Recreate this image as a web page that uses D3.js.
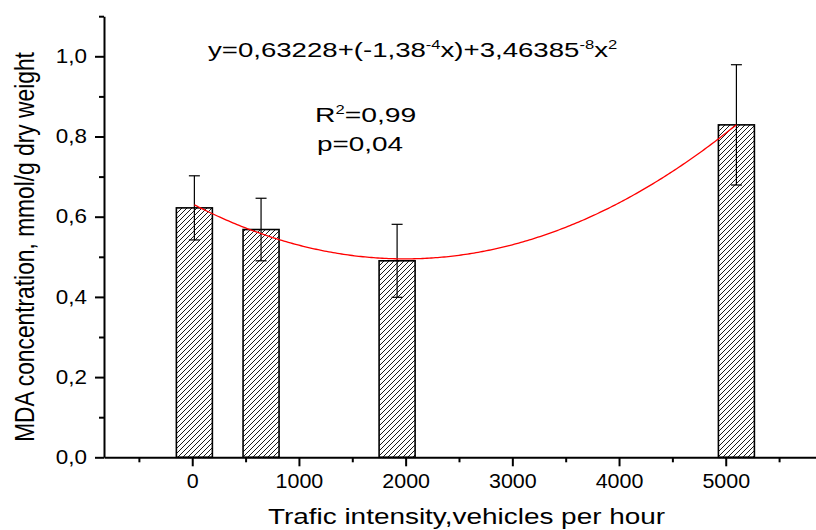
<!DOCTYPE html>
<html>
<head>
<meta charset="utf-8">
<script src="https://cdn.jsdelivr.net/npm/d3@7"></script>
<style>
  body { margin: 0; background: #fff; }
  svg { display: block; font-family: Arial, "Liberation Sans", sans-serif; }
</style>
</head>
<body>
<svg id="chart" width="816" height="530"></svg>
<script>
// values
const intensity = [20, 645, 1920, 5100];      // vehicles per hour (bar positions)
const mda = [0.622, 0.568, 0.49, 0.829];       // mmol/g dry weight
const mdaErr = [0.08, 0.078, 0.091, 0.15];
const xMajor = [0, 1000, 2000, 3000, 4000, 5000];
const xMinor = [-500, 500, 1500, 2500, 3500, 4500, 5500];
const yMajor = [0, 0.2, 0.4, 0.6, 0.8, 1.0];
const yMinor = [0.1, 0.3, 0.5, 0.7, 0.9, 1.1];
const fitCoef = [0.63228, -1.38e-4, 3.46385e-8]; // printed fit equation

const svg = d3.select("#chart");

const x = d3.scaleLinear().domain([-827, 5846]).range([104, 816]);
const y = d3.scaleLinear().domain([0, 1.1]).range([457.3, 16.2]);

// hatch for the bars
const defs = svg.append("defs");
defs.append("pattern")
  .attr("id", "hatch")
  .attr("patternUnits", "userSpaceOnUse")
  .attr("width", 5).attr("height", 5)
  .append("path")
  .attr("d", "M-1,1 l2,-2 M0,5 l5,-5 M4,6 l2,-2")
  .attr("stroke", "#000")
  .attr("stroke-width", 0.9);

// bars
const barW = 36;
svg.selectAll("rect.bar")
  .data(mda)
  .enter()
  .append("rect")
  .attr("class", "bar")
  .attr("x", (d, i) => x(intensity[i]) - barW / 2)
  .attr("y", d => y(d))
  .attr("width", barW)
  .attr("height", d => y(0) - y(d))
  .attr("fill", "url(#hatch)")
  .attr("stroke", "#000")
  .attr("stroke-width", 1.6);

// error bars
const errs = svg.append("g").attr("stroke", "#000").attr("stroke-width", 1.2);
mda.forEach(function (d, i) {
  const cx = x(intensity[i]);
  errs.append("line").attr("x1", cx).attr("x2", cx).attr("y1", y(d + mdaErr[i])).attr("y2", y(d - mdaErr[i]));
  errs.append("line").attr("x1", cx - 5.5).attr("x2", cx + 5.5).attr("y1", y(d + mdaErr[i])).attr("y2", y(d + mdaErr[i]));
  errs.append("line").attr("x1", cx - 5.5).attr("x2", cx + 5.5).attr("y1", y(d - mdaErr[i])).attr("y2", y(d - mdaErr[i]));
});

// fitted curve from the printed coefficients
const fitX = d3.range(intensity[0], intensity[3] + 1, 20);
svg.append("path")
  .datum(fitX)
  .attr("fill", "none")
  .attr("stroke", "#ff0000")
  .attr("stroke-width", 1.3)
  .attr("d", d3.line()
    .x(v => x(v))
    .y(v => y(fitCoef[0] + fitCoef[1] * v + fitCoef[2] * v * v)));

// axes: minor ticks first, then major ones with labels
const tickFont = 19.5;

svg.append("g")
  .attr("transform", "translate(0," + y(0) + ")")
  .call(d3.axisBottom(x).tickValues(xMinor).tickSize(5).tickFormat(""))
  .call(g => g.select(".domain").remove());

const xAxis = svg.append("g")
  .attr("transform", "translate(0," + y(0) + ")")
  .call(d3.axisBottom(x).tickValues(xMajor).tickSize(9).tickSizeOuter(0).tickPadding(8.2).tickFormat(d3.format("d")));

svg.append("g")
  .attr("transform", "translate(" + x.range()[0] + ",0)")
  .call(d3.axisLeft(y).tickValues(yMinor).tickSize(5).tickFormat(""))
  .call(g => g.select(".domain").remove());

const yAxis = svg.append("g")
  .attr("transform", "translate(" + x.range()[0] + ",0)")
  .call(d3.axisLeft(y).tickValues(yMajor).tickSize(9).tickSizeOuter(0).tickPadding(8)
    .tickFormat(d => d3.format(".1f")(d).replace(".", ",")));

svg.selectAll(".tick line").attr("stroke", "#000").attr("stroke-width", 2);
svg.selectAll(".domain").attr("stroke", "#000").attr("stroke-width", 2);

xAxis.selectAll("text")
  .attr("font-size", tickFont)
  .attr("font-family", "Arial, 'Liberation Sans', sans-serif")
  .attr("fill", "#000")
  .attr("transform", "scale(1.1,1)");

yAxis.selectAll("text")
  .attr("font-size", tickFont)
  .attr("font-family", "Arial, 'Liberation Sans', sans-serif")
  .attr("fill", "#000")
  .attr("x", -17 / 1.15)
  .attr("transform", "scale(1.15,1)");

// axis titles
svg.append("text")
  .attr("transform", "translate(466.5,523.5) scale(1.27,1)")
  .attr("text-anchor", "middle")
  .attr("font-size", 22)
  .text("Trafic intensity,vehicles per hour");

svg.append("text")
  .attr("transform", "translate(33.5,247) rotate(-90) scale(0.99,1.18)")
  .attr("text-anchor", "middle")
  .attr("font-size", 23)
  .text("MDA concentration, mmol/g dry weight");

// fit annotation
function note(px, py, parts, size, sx) {
  const t = svg.append("text")
    .attr("transform", "translate(" + px + "," + py + ") scale(" + sx + ",1)")
    .attr("font-size", size);
  let raised = false;
  parts.forEach(function (p) {
    const sup = p[1];
    const s = t.append("tspan").text(p[0]);
    if (sup && !raised) { s.attr("dy", -8).attr("font-size", 12); raised = true; }
    else if (sup) { s.attr("font-size", 12); }
    else if (raised) { s.attr("dy", 8); raised = false; }
  });
}

note(208, 56.5, [["y=0,63228+(-1,38"], ["-4", 1], ["x)+3,46385"], ["-8", 1], ["x"], ["2", 1]], 20, 1.38);
note(315, 122, [["R"], ["2", 1], ["=0,99"]], 20.5, 1.38);
note(317, 150.5, [["p=0,04"]], 20.5, 1.36);
</script>
</body>
</html>
